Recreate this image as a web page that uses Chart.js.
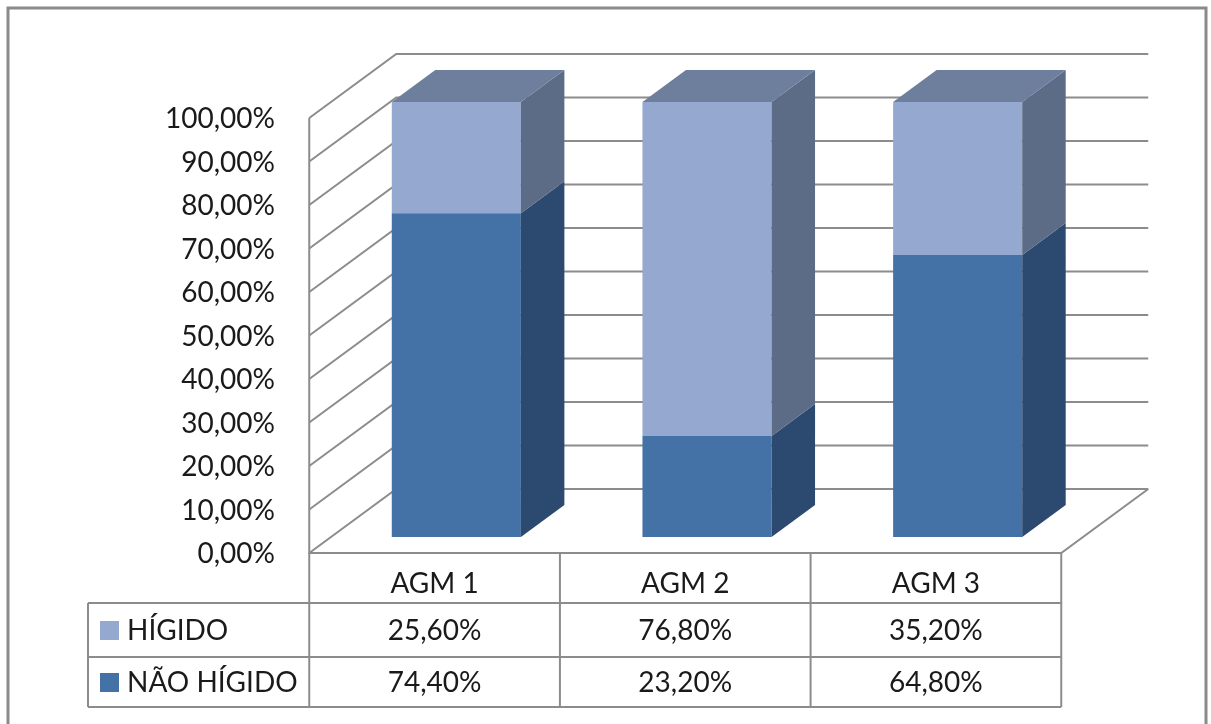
<!DOCTYPE html>
<html lang="pt">
<head>
<meta charset="UTF-8">
<title>AGM</title>
<style>
  html, body { margin: 0; padding: 0; background: #fff; }
  canvas { display: block; }
</style>
</head>
<body>
<canvas id="grafico" width="1211" height="724"></canvas>
<script src="https://cdn.jsdelivr.net/npm/chart.js@4.4.1/dist/chart.umd.min.js"></script>
<script>
// valores (%)
const categorias = ['AGM 1', 'AGM 2', 'AGM 3'];
const higido = [25.6, 76.8, 35.2];
const naoHigido = [74.4, 23.2, 64.8];
const series = ['HÍGIDO', 'NÃO HÍGIDO'];
const yTicks = [0, 10, 20, 30, 40, 50, 60, 70, 80, 90, 100];

const FONTE = '28px Lato, "Open Sans", sans-serif';
const LINHA = '#8c8c8c';

// profundidade da caixa 3D e posição das barras dentro dela
const DX = 87, DY = -64;
const F0 = 0.25, F1 = 0.75;

const cores = {
  'HÍGIDO':     { frente: '#95a9d0', lado: '#5c6b86', topo: '#6e7e9d' },
  'NÃO HÍGIDO': { frente: '#4472a7', lado: '#2c4a6f', topo: '#3a5a85' }
};

const pct = v => v.toFixed(2).replace('.', ',') + '%';

function seg(ctx, pts, cor) {
  ctx.beginPath();
  ctx.moveTo(pts[0][0], pts[0][1]);
  for (let i = 1; i < pts.length; i++) ctx.lineTo(pts[i][0], pts[i][1]);
  ctx.strokeStyle = cor;
  ctx.stroke();
}

function poly(ctx, pts, cor) {
  ctx.beginPath();
  ctx.moveTo(pts[0][0], pts[0][1]);
  for (let i = 1; i < pts.length; i++) ctx.lineTo(pts[i][0], pts[i][1]);
  ctx.closePath();
  ctx.fillStyle = cor;
  ctx.fill();
}

const caixa3d = {
  id: 'caixa3d',
  beforeDraw(chart) {
    const ctx = chart.ctx;
    ctx.save();
    ctx.fillStyle = '#fff';
    ctx.fillRect(0, 0, chart.width, chart.height);
    ctx.strokeStyle = '#8a8a8a';
    ctx.lineWidth = 3;
    ctx.beginPath();
    ctx.moveTo(8, 730);
    ctx.lineTo(8, 8);
    ctx.lineTo(1206, 8);
    ctx.lineTo(1206, 730);
    ctx.stroke();
    ctx.restore();
  },
  beforeDatasetsDraw(chart) {
    const ctx = chart.ctx, a = chart.chartArea, y = chart.scales.y;
    // plano frontal e plano de fundo a partir do plano das barras
    const fx = -DX * F0, fy = -DY * F0;
    const bx = DX * (1 - F0), by = DY * (1 - F0);
    const L = a.left + fx, R = a.right + fx;
    ctx.save();
    ctx.lineWidth = 2;
    yTicks.forEach(v => {
      const p = y.getPixelForValue(v);
      seg(ctx, [[L, p + fy], [a.left + bx, p + by], [a.right + bx, p + by]], LINHA);
    });
    const p0 = y.getPixelForValue(0), p100 = y.getPixelForValue(100);
    seg(ctx, [[L, p100 + fy], [L, p0 + fy], [R, p0 + fy], [a.right + bx, p0 + by]], LINHA);
    ctx.restore();
  },
  afterDatasetsDraw(chart) {
    const ctx = chart.ctx;
    const ddx = DX * (F1 - F0), ddy = DY * (F1 - F0);
    const n = chart.data.labels.length;
    ctx.save();
    for (let i = 0; i < n; i++) {
      let topo = null;
      chart.data.datasets.forEach((ds, k) => {
        const el = chart.getDatasetMeta(k).data[i];
        const c = cores[ds.label];
        const r = el.x + el.width / 2, l = el.x - el.width / 2;
        const t = Math.min(el.y, el.base), b = Math.max(el.y, el.base);
        if (b - t > 0) {
          poly(ctx, [[r, b], [r + ddx, b + ddy], [r + ddx, t + ddy], [r, t]], c.lado);
          if (!topo || t < topo.t) topo = { l, r, t, c };
        }
      });
      if (topo) {
        poly(ctx, [[topo.l, topo.t], [topo.r, topo.t], [topo.r + ddx, topo.t + ddy], [topo.l + ddx, topo.t + ddy]], topo.c.topo);
      }
    }
    ctx.restore();
  },
  afterDraw(chart) {
    // tabela de dados abaixo do gráfico
    const ctx = chart.ctx, a = chart.chartArea, x = chart.scales.x;
    const fx = -DX * F0;
    const L = a.left + fx, R = a.right + fx;
    const top = chart.scales.y.getPixelForValue(0) - DY * F0;
    const rows = [top, 603, 657, 707];
    const legL = 88;
    const step = (a.right - a.left) / n();
    function n() { return chart.data.labels.length; }
    ctx.save();
    ctx.lineWidth = 2;
    ctx.strokeStyle = LINHA;
    seg(ctx, [[L, rows[0]], [R, rows[0]]], LINHA);
    for (let r = 1; r < rows.length; r++) seg(ctx, [[legL, rows[r]], [R, rows[r]]], LINHA);
    seg(ctx, [[legL, rows[1]], [legL, rows[3]]], LINHA);
    for (let i = 0; i <= n(); i++) {
      const cx = L + step * i;
      seg(ctx, [[cx, rows[0]], [cx, rows[3]]], LINHA);
    }
    ctx.font = FONTE;
    ctx.fillStyle = '#1a1a1a';
    ctx.textAlign = 'center';
    ctx.textBaseline = 'middle';
    chart.data.labels.forEach((lab, i) => {
      const cx = x.getPixelForValue(i) + fx;
      ctx.fillText(lab, cx, (rows[0] + rows[1]) / 2 + 6);
    });
    const linhas = [
      { nome: series[0], vals: higido },
      { nome: series[1], vals: naoHigido }
    ];
    linhas.forEach((ln, r) => {
      const cy = (rows[r + 1] + rows[r + 2]) / 2 + 1;
      ctx.fillStyle = cores[ln.nome].frente;
      ctx.fillRect(100, cy - 10, 19, 19);
      ctx.fillStyle = '#1a1a1a';
      ctx.textAlign = 'left';
      ctx.fillText(ln.nome, 127, cy);
      ctx.textAlign = 'center';
      ln.vals.forEach((v, i) => {
        ctx.fillText(pct(v), x.getPixelForValue(i) + fx, cy);
      });
    });
    ctx.restore();
  }
};

const ctx = document.getElementById('grafico').getContext('2d');
new Chart(ctx, {
  type: 'bar',
  data: {
    labels: categorias,
    datasets: [
      { label: series[1], data: naoHigido, backgroundColor: cores[series[1]].frente },
      { label: series[0], data: higido, backgroundColor: cores[series[0]].frente }
    ]
  },
  options: {
    responsive: false,
    animation: false,
    events: [],
    layout: { padding: { left: 0, right: 128, top: 102, bottom: 187 } },
    datasets: { bar: { categoryPercentage: 0.515, barPercentage: 1, borderWidth: 0 } },
    plugins: { legend: { display: false }, tooltip: { enabled: false } },
    scales: {
      x: { stacked: true, display: false },
      y: {
        stacked: true,
        min: 0,
        max: 100,
        afterFit: s => { s.width = 331; },
        afterBuildTicks: s => { s.ticks = yTicks.map(v => ({ value: v })); },
        grid: { display: false, drawTicks: false },
        border: { display: false },
        ticks: {
          padding: 56,
          labelOffset: 17,
          color: '#1a1a1a',
          font: { family: 'Lato, "Open Sans", sans-serif', size: 28 },
          callback: v => pct(v)
        }
      }
    }
  },
  plugins: [caixa3d]
});
</script>
</body>
</html>
